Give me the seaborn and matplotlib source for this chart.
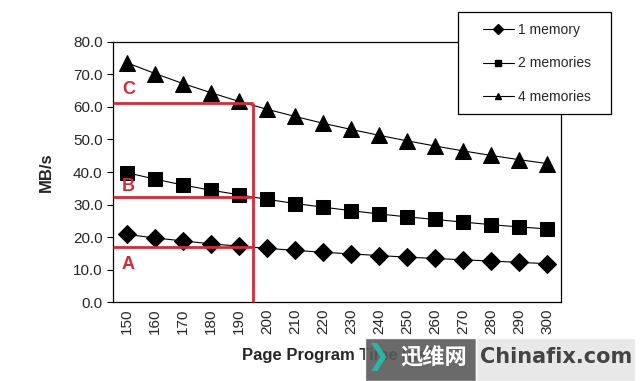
import numpy as np
import pandas as pd
import matplotlib
matplotlib.use('Agg')
import matplotlib.pyplot as plt
from matplotlib.patches import Rectangle
from matplotlib.lines import Line2D
import seaborn as sns

# Dados
tempos = [150, 160, 170, 180, 190, 200, 210, 220, 230, 240, 250, 260, 270, 280, 290, 300]
mem_1 = [20.8, 19.7, 18.8, 17.9, 17.2, 16.5, 15.9, 15.3, 14.8, 14.3, 13.8, 13.4, 13.0, 12.6, 12.2, 11.8]
mem_2 = [39.8, 37.8, 36.0, 34.4, 33.0, 31.6, 30.3, 29.2, 28.1, 27.1, 26.2, 25.4, 24.6, 23.8, 23.1, 22.5]
mem_4 = [73.6, 70.3, 67.2, 64.4, 61.7, 59.3, 57.1, 55.0, 53.1, 51.3, 49.6, 48.0, 46.5, 45.1, 43.8, 42.6]
series = ['1 memory', '2 memories', '4 memories']
marcadores = ['D', 's', '^']
tamanhos = [9, 10, 12]

# Linhas de referência em vermelho (A, B, C)
ref_labels = ['A', 'B', 'C']
ref_y = [16.9, 32.2, 61.3]
ref_label_y = [11.4, 35.4, 65.3]
ref_x = 4.5  # entre 190 e 200

df = pd.DataFrame({'pos': np.arange(len(tempos)), 'tempo': tempos,
                   '1 memory': mem_1, '2 memories': mem_2, '4 memories': mem_4})

sns.set_style('white')
plt.rcParams['font.family'] = ['Liberation Sans', 'DejaVu Sans']

fig = plt.figure(figsize=(6.4, 3.81), dpi=100)
ax = fig.add_axes([0.1766, 0.2073, 0.7, 0.6825])

vermelho = '#cc2f3b'
for s, m, ms in zip(series, marcadores, tamanhos):
    sns.lineplot(data=df, x='pos', y=s, ax=ax, color='black', linewidth=0.8,
                 marker=m, markersize=ms, markeredgecolor='black', zorder=3)

for lab, y, ly in zip(ref_labels, ref_y, ref_label_y):
    ax.plot([-0.5, ref_x], [y, y], color=vermelho, lw=2, zorder=4, solid_capstyle='butt')
    ax.text(0.05, ly, lab, color=vermelho, fontsize=13, fontweight='bold',
            ha='center', va='center', zorder=5)
ax.plot([ref_x, ref_x], [0, max(ref_y)], color=vermelho, lw=2, zorder=4,
        solid_capstyle='butt', clip_on=False)

ax.set_xlim(-0.5, len(tempos) - 0.5)
ax.set_ylim(0, 80)
ax.set_yticks(np.arange(0, 81, 10))
ax.set_yticklabels([f'{v:.1f}' for v in np.arange(0, 81, 10)], fontsize=11)
ax.set_xticks(df['pos'])
ax.set_xticklabels([str(t) for t in tempos], rotation=90, fontsize=11)
ax.set_xticks(np.arange(-0.5, len(tempos), 1), minor=True)
ax.tick_params(axis='x', which='major', length=0, pad=5)
ax.tick_params(axis='x', which='minor', length=5, width=0.8, direction='out', color='black')
ax.tick_params(axis='y', length=4, width=0.8, direction='out', color='black', left=True)

for sp in ax.spines.values():
    sp.set_color('black')
    sp.set_linewidth(0.9)

ax.set_xlabel('Page Program Time [μs]', fontsize=12, fontweight='bold', labelpad=10)
ax.set_ylabel('MB/s', fontsize=12, fontweight='bold', labelpad=14)

# Legenda: caixa desenhada à parte para ter o tamanho exato
fig.patches.append(Rectangle((458 / 640, 1 - 114 / 381), 153 / 640, 102 / 381,
                             transform=fig.transFigure, facecolor='white',
                             edgecolor='black', linewidth=0.9, zorder=9))
handles = [Line2D([], [], color='black', lw=0.8, marker=m, markersize=5)
           for m in marcadores]
leg = fig.legend(handles, series, loc='upper left', bbox_to_anchor=(483 / 640, 1 - 23 / 381),
                 frameon=False, fontsize=10, handlelength=2.2, handletextpad=0.3,
                 labelspacing=1.4, borderpad=0, borderaxespad=0)
leg.set_zorder(10)

# Marca d'água
fig.patches.append(Rectangle((365 / 640, 0), 111 / 640, 43 / 381, transform=fig.transFigure,
                             facecolor='#5a5a5a', alpha=0.9, zorder=20))
fig.patches.append(Rectangle((476 / 640, 0), 159 / 640, 43 / 381, transform=fig.transFigure,
                             facecolor='#e6e6e6', alpha=0.9, zorder=20))
fig.text(378 / 640, 24 / 381, '❯', color='#2bb5a8', fontsize=20, fontweight='bold',
         ha='center', va='center', zorder=21, family=['DejaVu Sans'])
fig.text(434 / 640, 24 / 381, '迅维网', color='white', fontsize=16, fontweight='bold',
         ha='center', va='center', zorder=21, family=['Noto Sans CJK SC', 'DejaVu Sans'])
fig.text(556 / 640, 24 / 381, 'Chinafix.com', color='#444444', fontsize=15, fontweight='bold',
         ha='center', va='center', zorder=21, family=['DejaVu Sans'])

fig.savefig('out.png', dpi=100)
